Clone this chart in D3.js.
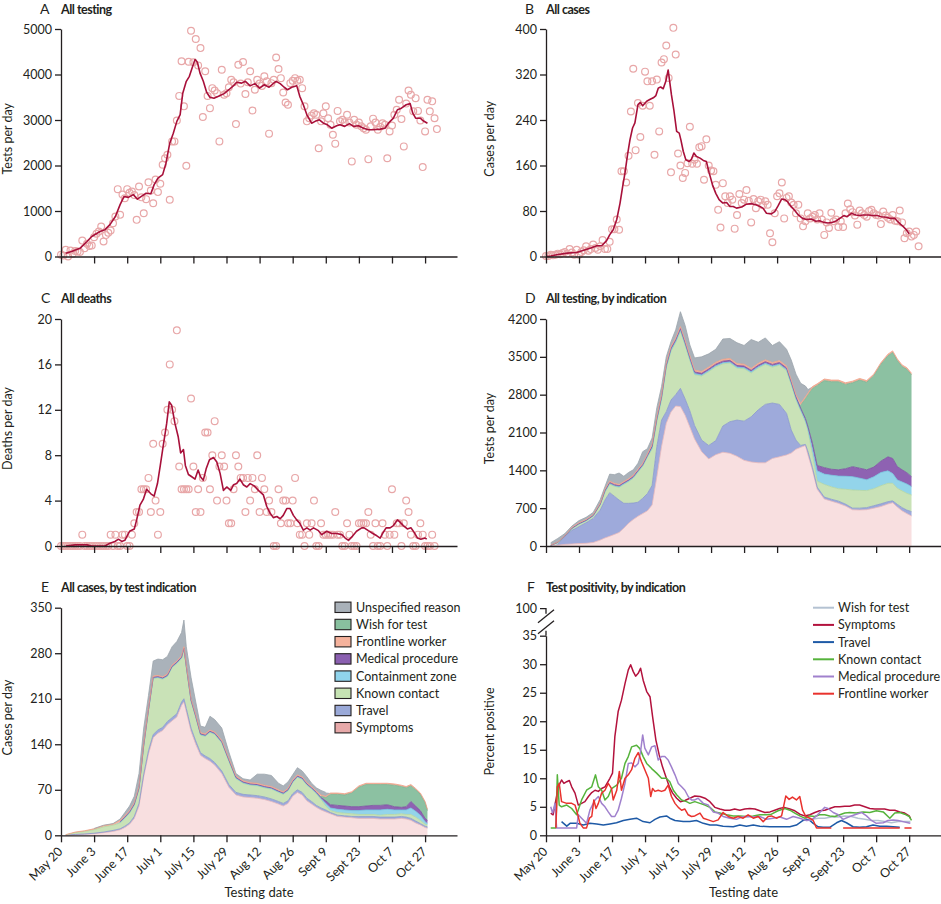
<!DOCTYPE html>
<html><head><meta charset="utf-8">
<script src="https://cdn.jsdelivr.net/npm/d3@7/dist/d3.min.js"></script>
<style>body{margin:0;background:#fff;} svg{display:block;}</style>
</head><body><svg id="chart" width="941" height="904"></svg>
<script>
// ---------- shared axis data (days since May 20) ----------
const dateTickDays = [0,14,28,42,56,70,84,98,112,126,140,154];
const dateTickLabels = ["May 20","June 3","June 17","July 1","July 15","July 29","Aug 12","Aug 26","Sept 9","Sept 23","Oct 7","Oct 27"];

// ---------- A: all testing (daily, from day 0) ----------
const testsDaily = [40,20,150,0,130,60,120,110,100,350,180,280,230,240,425,500,550,660,330,470,520,570,730,880,1480,915,1360,1280,1480,1400,1430,1350,805,1540,1300,950,1260,1630,1450,1170,1690,1415,1600,2015,2160,2236,1246,2530,2530,2990,3530,4290,3300,1995,4280,4960,4270,4780,4200,4580,3065,4070,3530,3260,3700,3650,3590,2530,4105,3555,3590,3720,3885,3830,2910,4215,3800,4275,3570,3830,4070,3210,3665,3885,3800,3750,3960,3850,2700,3810,3885,4375,4120,3920,3605,3385,3335,3810,3863,3920,3863,3885,3700,3300,2970,3040,3100,3150,3115,2380,2970,3150,3300,3040,2895,2675,2480,3200,2970,3005,2950,3115,2945,2090,3005,2895,2945,2860,2820,2785,2140,2860,3030,2945,2785,2850,2930,2895,2160,2750,2880,3115,3225,3445,3020,2420,3360,3650,3555,3190,3480,3200,2990,1965,2750,3445,3190,3410,3040,2800];
const testsAvg = [[2,70],[4.5,110],[8,180],[11,330],[13,440],[16.5,550],[18.6,590],[20.7,700],[23,880],[25,1140],[26.7,1320],[28.5,1300],[30.6,1360],[32.3,1260],[34,1320],[36,1390],[38,1380],[39.4,1580],[41,1720],[43,1800],[44.4,2050],[46,2490],[47.5,2710],[49,2970],[50.4,3120],[51.5,3590],[53,3850],[54.3,3960],[55.7,4180],[56.7,4330],[57.7,4270],[58.8,4030],[60.2,3850],[61.6,3610],[63,3500],[64.7,3480],[66.6,3520],[69,3580],[71,3665],[73,3755],[74.3,3830],[76.4,3810],[78,3850],[80,3750],[82,3800],[84,3700],[86,3775],[88,3720],[90,3810],[91,3850],[92.7,3800],[94.4,3720],[95.8,3665],[97.6,3720],[99.7,3755],[101,3520],[102.5,3335],[104,3115],[106,2930],[107.5,2970],[109.3,3005],[111,2930],[112.7,2895],[114.5,2820],[116.6,2875],[118,2895],[120,2860],[122,2920],[123.7,2860],[125.8,2875],[128,2820],[130,2785],[132,2785],[135,2800],[137,2820],[138.5,2930],[140.6,3040],[142.3,3225],[144,3260],[146,3335],[147.7,3360],[148.8,3150],[150,3040],[152,3040],[153,2990],[155,2930]];

// ---------- B: all cases ----------
const casesDaily = [1,1,3,2,3,5,4,6,8,5,13,7,3,12,3,8,11,18,10,13,21,15,12,18,29,13,13,26,48,48,65,47,150,150,130,177,255,330,187,270,210,265,325,308,265,308,179,311,220,341,347,371,314,148,402,355,181,160,138,147,164,228,163,170,163,192,194,135,206,160,151,150,126,82,51,129,106,94,106,100,49,73,110,94,100,117,98,60,101,85,97,100,90,97,91,41,25,76,106,111,130,67,103,106,95,91,76,91,67,53,62,76,67,70,73,65,76,65,38,60,50,77,62,65,52,62,52,76,93,83,78,72,56,81,76,73,70,80,82,76,73,72,57,79,72,68,65,73,63,62,81,60,32,41,44,35,38,44,18];
const casesAvg = [[0,0],[2,1],[4.5,3],[9,6],[13,7],[16,11],[19,15],[21.5,19],[23.6,19],[25.7,28],[27,38],[28.5,47],[30,65],[31.4,94],[32.5,123],[33.5,147],[34.5,177],[35.6,205],[36.7,226],[37.7,235],[39,267],[40,271],[41,265],[42.7,273],[44,276],[45.5,279],[46.6,283],[47.6,296],[48.6,298],[49.7,295],[50.8,308],[51.8,328],[52.5,306],[53.2,284],[54.2,258],[55.4,220],[56.5,217],[57.2,205],[58.2,185],[59.3,170],[60.7,167],[61.7,171],[62.7,182],[63.8,176],[65.3,173],[66.7,169],[68,167],[69.2,147],[70.6,126],[72,111],[73.4,100],[75,94],[76.6,95],[78,88],[79.4,88],[80.8,85],[83,87],[85,92],[87,93],[89,91],[90.7,88],[92,85],[93.5,76],[95.6,75],[97,79],[98.4,89],[99.9,101],[101.3,100],[102.3,97],[103.7,89],[105.5,81],[107,73],[108.8,67],[110.5,65],[112.6,66],[114.4,62],[116,63],[117.8,60],[119.6,59],[121.5,60],[123.2,63],[124.6,67],[126.3,72],[127.7,70],[129.5,76],[131.4,73],[133,72],[134.5,73],[136.6,73],[138.7,72],[140.4,72],[142.2,70],[144.4,69],[146,67],[148,67],[149,62],[150.3,57],[151.4,53],[152.8,47],[154,40]];

// ---------- C: all deaths ----------
const deathsDaily = [0,0,0,0,0,0,0,0,0,1,0,0,0,0,0,0,0,0,0,0,0,1,0,1,0,0,1,1,0,0,1,2,3,3,5,5,5,6,3,9,4,1,3,9,10,12,16,12,11,19,7,5,5,5,5,13,7,3,5,3,6,10,10,5,8,11,4,7,8,7,4,2,2,5,8,7,6,6,3,6,4,6,5,8,3,6,5,3,4,3,0,0,5,2,4,4,2,2,4,6,2,1,1,0,2,1,2,4,0,0,2,1,1,1,1,1,3,1,1,0,0,2,1,0,0,0,2,2,2,2,3,1,0,2,0,0,2,1,0,1,5,1,2,2,0,2,4,3,1,0,0,1,2,1,0,0,0,1,0];
const deathsAvg = [[2,0],[6,0.1],[11,0.1],[13,0],[18.6,0],[20.7,0.25],[22.8,0.4],[24.3,0.6],[25.7,0.4],[27,0.5],[29,1.3],[31,1.5],[32,2.3],[33.4,3.6],[34.8,4.1],[36.2,5],[38,4.6],[39.4,4.4],[40.8,5.5],[42,7.1],[43.3,8.9],[44.7,10.8],[45.8,12.7],[46.8,12.4],[48.2,10.8],[49.6,9.6],[50.6,8.2],[51.8,8.5],[52.6,7.1],[53.9,6.3],[55.3,6.1],[56.7,5.9],[58,6.7],[59,6.1],[60.2,5.8],[61.4,6.8],[62.8,7.6],[64.5,7.8],[65.9,7.4],[67.3,6.4],[68.7,4.9],[70.1,5.2],[71.8,4.9],[73,5.4],[74.3,5.5],[75.7,5.9],[77.1,5.4],[78.6,5.2],[80,5.5],[81.7,5.3],[83.5,4.9],[85.6,4.5],[87,3.5],[88.4,2.9],[89.8,2.5],[91.3,2.6],[92.7,2.4],[94,2.7],[95.5,3.3],[96.9,3.3],[98.3,2.7],[99.7,2.3],[101,2],[102.5,1.4],[104,1.6],[105.4,1.4],[106.8,1.6],[108.9,1.35],[110.3,1],[112.4,1.3],[114.5,1.1],[116.6,1.1],[118.8,1],[120.2,0.7],[121.6,0.5],[123,0.8],[125,1.3],[127.2,1.6],[128.2,1.6],[130,1.35],[131.9,1.1],[133.6,0.9],[135,0.7],[136,1.1],[137.5,1.6],[139.2,1.6],[140.6,1.8],[142.3,2.3],[143.4,2.1],[144.8,1.8],[146.5,1.5],[148,1.6],[149.4,1.2],[150.8,0.7],[152.2,0.6],[154,0.7],[154.7,0.6]];

// ---------- D: testing by indication ----------
const dDays = [2,5,8,11,14,17,20,23,25,27,29,31,33,35,37,39,41,43,45,47,49,51,53,55,57,59,61,63,66,69,72,75,78,81,84,87,90,93,96,99,102,104,106,108,110,111,113,115,118,121,124,127,130,133,136,139,142,145,147,149,151,153,155];
const dSymptoms = [3,15,30,37,45,50,65,110,150,180,215,250,330,420,490,550,600,650,760,1280,1840,2270,2480,2590,2580,2420,2200,1980,1745,1610,1690,1735,1715,1660,1585,1555,1540,1540,1620,1650,1685,1720,1790,1825,1860,1700,1400,1050,870,830,790,740,670,666,672,700,730,777,800,720,650,600,555];
const dTravel = [0,20,140,253,315,380,445,555,700,807,705,600,460,369,305,260,282,320,360,560,490,215,220,210,337,300,300,250,215,250,260,485,585,670,725,835,980,1080,1025,970,770,425,170,35,20,60,50,40,35,35,40,35,30,34,38,45,50,43,35,50,60,65,80];
const dKnown = [5,30,12,27,42,32,42,97,145,158,185,235,350,401,460,555,593,675,675,465,380,810,905,965,1058,995,935,940,1185,1365,1365,1150,1085,960,970,812,775,740,665,725,790,840,750,640,420,390,250,110,235,230,230,275,336,330,315,315,335,340,325,297,310,309,309];
const dContainment = [1,1,1,5,5,5,5,5,12,12,12,12,12,12,12,12,12,12,20,20,20,20,20,20,20,20,20,20,20,20,20,20,20,20,20,20,20,20,20,20,20,20,20,20,20,30,100,190,190,215,233,240,247,225,200,220,245,230,180,154,165,173,154];
const dMedical = [2,2,2,8,8,8,8,8,18,18,18,18,18,18,18,18,18,18,30,30,30,30,30,30,30,30,30,30,30,30,30,30,30,30,30,30,30,30,30,30,30,30,30,30,40,40,100,100,120,110,117,140,185,185,185,180,210,260,280,247,225,210,185];
const dWish = [0,0,0,0,0,0,0,0,0,0,0,0,0,0,0,0,0,0,0,0,0,0,0,0,0,0,0,0,0,0,0,0,0,0,0,0,0,0,0,0,0,0,0,55,365,570,1015,1480,1610,1620,1630,1560,1552,1630,1620,1690,1790,1870,1960,1962,1910,1913,1882];
const dFrontline = [5,5,5,15,15,15,15,15,25,25,25,25,25,25,25,25,25,25,35,35,35,35,35,35,35,35,35,35,35,35,35,35,35,35,35,35,35,35,35,35,35,35,35,35,35,35,35,30,30,30,30,30,30,30,30,30,30,30,30,30,30,30,30];
const dUnspecified = [44,67,40,25,40,40,40,70,50,130,160,210,95,115,100,110,215,100,120,170,155,120,90,150,275,280,200,225,270,245,240,375,370,385,345,533,390,405,315,350,310,370,385,370,200,75,0,0,0,0,0,0,0,0,0,0,0,0,0,0,0,0,0];

// ---------- E: cases by test indication ----------
const eDays = [2,6,10,14,18,22,25,27,29,31,33,35,37,39,41,43,45,47,49,51,52,53,55,57,59,61,63,65,68,71,74,77,80,83,86,89,92,94,96,98,100,102,104,106,108,110,112,114,117,120,123,126,129,132,135,138,141,144,146,148,150,152,154,155];
const eSymptoms = [0.3,1,1.6,2.5,4,6,8.5,12,17,26,45,90,125,150,157,161,170,176,182,200,205,190,160,140,123,118,114,108,95,74,62,59,58,57,55,52,48,45,49,60,66,62,53,48,43,39,36,33,29,28,27,26,26,26,25,25,25,26,25,23,19,16,12,11];
const eTravel = [0.1,0.3,0.4,0.7,1,1.5,1.5,2,2,3,4,4,5,5,5,5,5,5,5,5,5,5,5,5,4,4,4,4,4,4,4,4,4,4,4,4,4,4,4,4,4,4,4,4,3,3,3,2,2,2,2,3,3,3,3,3,3,3,3,3,3,2,2,2];
const eKnown = [0.3,2.7,4,5.3,8,8,9,12,15,17,22,43,61,86,80,74,69,77,77,67,76,63,41,36,27,30,40,43,43,36,21,17,15,15,14,15,14,14,15,17,19,20,20,19,18,13,6,3,4,4,4,3,3,3,3,4,4,4,4,6,6,5,3,3];
const eContainment = [0,0,0,0,0,0,1,1,1,1,1,1,1,1,1,1,1,1,1,1,1,1,1,1,1,1,1,1,1,1,1,1,1,1,1,1,1,1,1,1,1,1,1,1,1,1.5,4,4,5,5,5,6,7,7,8,8,7,6,7,10,9,8,4,2];
const eMedical = [0,0,0,0,0,0,1,1,1,1,1,1,1,1,1,1,1,1,1,1,1,1,1,1,1,1,1,1,1,1,1,1,1,1,1,1,1,1,1,1,1,1,1,1,1,1.5,4,5,6,6,6,6,6,7,7,7,5,4,5,10,8,7,5,5];
const eWish = [0,0,0,0,0,0,0,0,0,0,0,0,0,0,0,0,0,0,0,0,0,0,0,0,0,0,0,0,0,0,0,0,0,0,0,0,0,0,0,0,0,0,0,0,0,2,5,16,17,17,21,30,33,32,32,31,33,32,29,24,25,25,24,15];
const eFrontline = [0.3,1,1,1.5,2,2,2,2,2,2,2,2,2,2,2,2,2,2,2,2,2,2,2,2,2,2,2,2,2,2,2,2,2,2,2,2,2,2,2,2,2,2,2,2,2,2,2,2,2,2,2,2,2,2,2,2,2,2,2,2,2,2,2,2];
const eUnspecified = [0,0,0,0.5,0.5,0.5,2,5,7,10,20,24,20,23,25,26,27,28,30,36,41,28,33,20,10,10,21,19,19,10,4,3,4,14,17,17,10,9,10,8,11,9,9,5,5,7,6,0,0,0,0,0,0,0,0,0,0,0,0,0,0,0,0,0];

// ---------- F: test positivity (%) by indication ----------
const posSymptoms = [[2,3.9],[3,3.6],[4.2,6.2],[5.2,8.5],[6.6,9.7],[7.6,9.1],[8.8,9.4],[9.9,9.6],[10.9,8.5],[12.3,7.4],[13.7,5.3],[15.1,5.6],[16.5,5.9],[18,6.8],[19.4,7.5],[20.8,7.9],[22.2,7.7],[23.6,8.2],[25,8.5],[27.1,10],[28.2,10.9],[29.2,17.3],[30.6,21.7],[32,23.7],[33.5,26.6],[34.9,29],[35.9,29.9],[37,28.7],[38,27.9],[39.1,28.4],[40.1,29.3],[41.2,27.2],[42.7,25.2],[44.1,24.3],[45.2,20.8],[46.6,16.7],[48,14.1],[49.4,12],[50.8,10.3],[52.3,8.5],[53.7,7.4],[55.4,6.5],[57,5.9],[58.9,6.1],[61,6.5],[63.1,6.9],[65.3,6.8],[67.4,6.5],[69.5,5.9],[71.6,4.9],[73.7,4.6],[75.8,4.4],[78,4.4],[80,4.6],[82.2,4.4],[84.3,4.6],[86.4,4.7],[88.6,4.6],[90.7,4.3],[92.8,4],[95,4.1],[97,4.4],[99,4.7],[101,4.9],[103.4,4.6],[105.5,4.3],[107.6,3.7],[109.7,3.4],[111.9,3.6],[114,4],[116,4.3],[118.2,4.4],[120.3,4.7],[122.5,5],[124.6,5],[126.7,5.1],[128.8,5.1],[130.9,5.3],[133,5.3],[135.2,5],[137.3,4.7],[139.4,4.6],[141.5,4.6],[143.6,4.6],[145.8,4.4],[147.9,4.4],[150,4.1],[152.1,3.9],[154,3.4],[154.5,3]];
const posKnown = [[2,1.3],[4.2,1.3],[4.8,10.6],[5.6,5.3],[6.6,5],[8.8,5.3],[10.9,4.7],[13,3.6],[15.1,6.2],[17.2,7.9],[19.4,8.5],[21,10.6],[22.2,8.5],[23.6,7.9],[25,6.2],[26.4,6.8],[27.8,8.2],[30,8.8],[32,10],[33.5,12.6],[34.9,13.8],[36.3,15.5],[38.4,15.8],[39.8,15.2],[41.2,13.8],[42.7,12.6],[44.8,11.7],[46.9,10.9],[49,10],[51,10],[52.5,9.4],[54,7.9],[55.4,7.1],[57.5,6.2],[59.6,5.9],[61,5.6],[63.1,5.9],[65.3,5.6],[67.4,5.3],[69.5,4.9],[71.6,4.1],[73.7,3.9],[76.6,3.6],[79.4,3.4],[82.2,3.4],[85,3.3],[87.9,3.4],[90.7,3.6],[93.5,3.6],[95.6,3.7],[98.4,4.3],[101.3,4.7],[103.4,4.4],[105.5,3.9],[107.6,3.4],[109.7,3.0],[111.9,3.4],[114,3.3],[116,3.6],[118.2,3.6],[120.3,3.4],[122.5,3.3],[124.6,3.6],[126.7,3.9],[128.8,4.0],[131.6,3.9],[134.5,4.1],[137.3,4.0],[140.1,4.3],[143,4.1],[145.8,3.0],[147.9,3.9],[150,4.0],[152.1,3.7],[154,3.3],[155,2.6]];
const posMedical = [[2,5],[2.8,3.9],[3.8,5.6],[4.5,1.3],[13,1.3],[13.7,3.6],[15.1,3],[17.2,2.1],[18.6,4.4],[20.8,6.2],[22.2,6.8],[23.6,5.6],[25,5],[26.4,4.1],[27.8,3.3],[29.2,3.3],[30.6,4.4],[32,6.5],[33.5,9.1],[34.9,12.6],[36.3,12.7],[37.7,12],[39.1,12.6],[40.1,14.7],[41,17.6],[41.9,15.3],[43.4,14.1],[44.8,15.5],[46.2,15.7],[47.6,13.2],[49,13.8],[50.4,13.8],[51.8,13.2],[53.2,12],[54.7,10.6],[56.1,9.1],[57.5,8.5],[58.9,7.9],[60.3,6.8],[61.7,6.2],[63.1,6.2],[64.5,6.5],[66.7,5.6],[68.8,5.3],[70.9,4.1],[73,3.9],[75.1,3.3],[78,3],[80.8,2.8],[82.9,3.2],[85,3.3],[87.9,3.2],[90.7,3.3],[93.5,2.8],[96.3,3.0],[99.2,3.2],[102,2.8],[104.8,3.3],[107.6,3.0],[110.5,2.6],[112.6,2.7],[114.7,3.4],[116.8,4.3],[118.2,4.9],[119.6,4.7],[121.8,4.0],[123.9,3.6],[126,2.8],[128.8,3.3],[131.6,3.7],[133.8,4.0],[135.9,3.4],[138,2.6],[140.1,2.1],[143,2.2],[145,2.6],[147.2,2.7],[149.3,2.6],[151.4,2.4],[153.5,2.2],[154.5,2.1]];
const posFrontline = [[4.2,1.3],[4.8,8.5],[5.6,9.1],[6.6,5.9],[8.8,5.6],[10.9,5.6],[12.3,5.3],[13.3,3.9],[14.4,2.1],[15.8,1.3],[17.2,1.3],[18.4,3.0],[19.4,3.3],[20.3,6.2],[21.2,4.7],[22.2,5.6],[23.6,7.4],[25,7.9],[26.4,9.1],[27.8,8.2],[28.5,6.2],[30,7.9],[31.1,11.2],[32,7.9],[33.5,10],[34.9,10.6],[36.3,11.5],[37.7,13.5],[39.1,14.5],[40.5,12.9],[41.9,11.5],[43.4,10],[44.4,6.8],[45.2,8.2],[46.2,7.7],[47.6,7.9],[49,7.7],[50.4,7.9],[51.8,8.8],[53.2,6.8],[54.7,5.6],[56.1,4.9],[57.5,4.4],[58.9,4.6],[60.3,3.6],[61.7,3.3],[63.1,3.4],[65.3,3.9],[66.7,3.0],[68.8,2.7],[70.9,2.4],[73,2.7],[75.1,4.0],[77.3,3.3],[79.4,3.0],[81.5,3.3],[83.6,3.0],[85.7,3.6],[87.9,3.0],[90,3.3],[92.1,2.4],[94.2,3.3],[95.6,3.4],[97.7,3.0],[99.9,3.4],[101.7,6.9],[103.1,6.3],[104.5,6.7],[106.2,6.2],[107.6,6.8],[108.8,4.4],[110.2,3.3],[111.9,3.0],[113.3,2.6],[114.7,1.3],[121,1.3],[121.5,null],[126,1.3],[150,1.3],[151,null],[152,1.3],[155,1.3]];
const posTravel = [[6.6,2.4],[8.8,1.6],[10.2,2.1],[13,2.1],[15.8,1.8],[18.6,2.1],[21.5,2.0],[24.3,1.8],[27.1,2.0],[29.9,2.2],[32.8,2.6],[35.6,2.8],[38.4,3.0],[41.2,2.4],[44.1,2.2],[46.2,2.8],[48.3,3.2],[51.1,3.4],[52.5,3.0],[54.7,2.6],[58.2,2.4],[61,2.4],[63.8,2.6],[66.7,2.1],[69.5,1.8],[72.3,1.8],[75.1,1.6],[79.4,1.5],[82.2,1.8],[85,1.6],[87.9,1.8],[90.7,1.6],[94.9,1.5],[99.2,1.5],[103.4,1.5],[106.2,1.8],[109,2.6],[110.5,2.8],[111.9,2.6],[113.3,2.1],[115.4,1.5],[117.5,1.4],[120.3,1.4],[123.2,2.2],[125.3,2.6],[127.4,2.2],[130.2,1.5],[133,1.4],[135.9,1.5],[138.7,1.8],[141.5,1.6],[144.4,1.6],[147.2,1.5],[150,1.4]];
const posWish = [[110,2.6],[112.6,2.8],[115.4,3.0],[118.2,3.0],[121.1,3.2],[123.9,3.2],[126.7,3.4],[129.5,3.3],[132.3,3.0],[135.2,2.8],[138,2.6],[140.8,2.6],[143.6,2.4],[146.5,2.2],[149.3,2.4],[152.1,2.4],[154.5,2.4]];

// ---------- categories ----------
const stackKeys = ["Symptoms","Travel","Known contact","Containment zone","Medical procedure","Wish for test","Frontline worker","Unspecified reason"];
const legendEOrder = ["Unspecified reason","Wish for test","Frontline worker","Medical procedure","Containment zone","Known contact","Travel","Symptoms"];
const legendFOrder = ["Wish for test","Symptoms","Travel","Known contact","Medical procedure","Frontline worker"];

// ---------- styles ----------
const INK = "#231f20";
const FONT = "Lato, 'Open Sans', 'DejaVu Sans', sans-serif";
const areaFill = {"Symptoms":"#f8dfe0","Travel":"#9eaadb","Known contact":"#c9e2b7","Containment zone":"#93d4ea","Medical procedure":"#8e62b2","Wish for test":"#8cc1a2","Frontline worker":"#f4b19b","Unspecified reason":"#aab2ba"};
const areaEdge = {"Symptoms":"#e9b8ba","Travel":"#8795cc","Known contact":"#b4d59f","Containment zone":"#72c4e0","Medical procedure":"#7a4d9f","Wish for test":"#79b190","Frontline worker":"#ef9f86","Unspecified reason":"#9ca4ac"};
const swatchFill = {"Symptoms":"#e7a9a9","Travel":"#9aa9d8","Known contact":"#c6e3b3","Containment zone":"#90d4ec","Medical procedure":"#8a5fb0","Wish for test":"#88c09f","Frontline worker":"#f5b29c","Unspecified reason":"#a9b1b9"};
const lineColor = {"Wish for test":"#b4c2d2","Symptoms":"#b3123d","Travel":"#1e5aa6","Known contact":"#56b33c","Medical procedure":"#a081cd","Frontline worker":"#e9322d"};
const posSeries = {"Wish for test":posWish,"Symptoms":posSymptoms,"Travel":posTravel,"Known contact":posKnown,"Medical procedure":posMedical,"Frontline worker":posFrontline};

const svg = d3.select("#chart").style("font-family", FONT);

function makePanel(o){
  const x = d3.scaleLinear().domain([0,167.5]).range([o.x0,o.x1]);
  const y = d3.scaleLinear().domain(o.yDomain).range([o.yBottom,o.yTop]);
  const g = svg.append("g");
  const marks = g.append("g");
  const axes = g.append("g");
  const gx = axes.append("g").attr("transform",`translate(0,${o.yBottom})`)
    .call(d3.axisBottom(x).tickValues(dateTickDays).tickSize(7).tickSizeOuter(0)
      .tickFormat((d,i)=> o.xLabels ? dateTickLabels[i] : ""));
  const gy = axes.append("g").attr("transform",`translate(${o.x0},0)`)
    .call(d3.axisLeft(y).tickValues(o.yTicks).tickSize(6).tickSizeOuter(0).tickPadding(3).tickFormat(d3.format("d")));
  axes.selectAll(".domain, .tick line").attr("stroke",INK).attr("stroke-width",1.3);
  axes.selectAll(".tick text").attr("fill",INK).style("font-size","12.5px").style("font-family",FONT);
  if(o.xLabels){
    gx.selectAll(".tick text").attr("text-anchor","end").attr("x",0).attr("y",0).attr("dy",0)
      .attr("transform","translate(2,17) rotate(-45)");
    g.append("text").attr("x",(o.x0+o.x1)/2).attr("y",897).attr("text-anchor","middle")
      .attr("fill",INK).style("font-size","13px").text("Testing date");
  }
  g.append("text").attr("x",o.letterX).attr("y",o.titleY+1).attr("fill",INK)
    .style("font-size","14px").text(o.letter);
  g.append("text").attr("x",o.x0).attr("y",o.titleY+1).attr("fill",INK)
    .style("font-size","12.5px").style("font-weight","700").style("letter-spacing","-0.5px").text(o.title);
  g.append("text").attr("transform",`translate(${o.labelX},${(o.yTop+o.yBottom)/2-4}) rotate(-90)`)
    .attr("text-anchor","middle").attr("fill",INK).style("font-size","12.5px").text(o.yLabel);
  return {g,marks,x,y};
}

function scatterPanel(p, daily, avg){
  p.marks.append("g").selectAll("circle").data(daily).join("circle")
    .attr("cx",(d,i)=>p.x(i)).attr("cy",d=>p.y(d)).attr("r",3.4)
    .attr("fill","none").attr("stroke","#e8a7a8").attr("stroke-width",1.2);
  p.marks.append("path").datum(avg)
    .attr("d",d3.line().x(d=>p.x(d[0])).y(d=>p.y(d[1])))
    .attr("fill","none").attr("stroke","#a8103a").attr("stroke-width",1.6).attr("stroke-linejoin","round");
}

function stackPanel(p, days, layers){
  const rows = days.map((day,i)=>{const r={day}; stackKeys.forEach(k=>r[k]=layers[k][i]); return r;});
  const series = d3.stack().keys(stackKeys)(rows);
  const area = d3.area().x(d=>p.x(d.data.day)).y0(d=>p.y(d[0])).y1(d=>p.y(d[1]));
  series.forEach(s=>{
    p.marks.append("path").datum(s).attr("d",area).attr("fill",areaFill[s.key]).attr("stroke","none");
  });
  series.forEach(s=>{
    p.marks.append("path").datum(s)
      .attr("d",d3.line().defined(d=>d[1]-d[0]>0).x(d=>p.x(d.data.day)).y(d=>p.y(d[1])))
      .attr("fill","none").attr("stroke",areaEdge[s.key]).attr("stroke-width",0.8);
  });
}

// A
const pA = makePanel({x0:61,x1:457,yTop:29,yBottom:256.5,yDomain:[0,5000],yTicks:[0,1000,2000,3000,4000,5000],
  letter:"A",letterX:40,title:"All testing",titleY:12.7,yLabel:"Tests per day",labelX:12,xLabels:false});
scatterPanel(pA, testsDaily, testsAvg);
// B
const pB = makePanel({x0:546,x1:941,yTop:29,yBottom:256.5,yDomain:[0,400],yTicks:[0,80,160,240,320,400],
  letter:"B",letterX:525,title:"All cases",titleY:12.7,yLabel:"Cases per day",labelX:494,xLabels:false});
scatterPanel(pB, casesDaily, casesAvg);
// C
const pC = makePanel({x0:61,x1:457,yTop:319,yBottom:546,yDomain:[0,20],yTicks:[0,4,8,12,16,20],
  letter:"C",letterX:41,title:"All deaths",titleY:301.7,yLabel:"Deaths per day",labelX:12,xLabels:false});
scatterPanel(pC, deathsDaily, deathsAvg);
// D
const pD = makePanel({x0:546,x1:941,yTop:319,yBottom:546,yDomain:[0,4200],yTicks:[0,700,1400,2100,2800,3500,4200],
  letter:"D",letterX:525,title:"All testing, by indication",titleY:301.7,yLabel:"Tests per day",labelX:494,xLabels:false});
stackPanel(pD, dDays, {"Symptoms":dSymptoms,"Travel":dTravel,"Known contact":dKnown,"Containment zone":dContainment,
  "Medical procedure":dMedical,"Wish for test":dWish,"Frontline worker":dFrontline,"Unspecified reason":dUnspecified});
// E
const pE = makePanel({x0:61,x1:457,yTop:607.7,yBottom:835.3,yDomain:[0,350],yTicks:[0,70,140,210,280,350],
  letter:"E",letterX:41,title:"All cases, by test indication",titleY:590.7,yLabel:"Cases per day",labelX:12,xLabels:true});
stackPanel(pE, eDays, {"Symptoms":eSymptoms,"Travel":eTravel,"Known contact":eKnown,"Containment zone":eContainment,
  "Medical procedure":eMedical,"Wish for test":eWish,"Frontline worker":eFrontline,"Unspecified reason":eUnspecified});
const legE = pE.g.append("g");
legendEOrder.forEach((k,i)=>{
  const cy = 607.3 + i*17.2;
  legE.append("rect").attr("x",335).attr("y",cy-5.2).attr("width",16).attr("height",10.4)
    .attr("fill",swatchFill[k]).attr("stroke",INK).attr("stroke-width",1.1);
  legE.append("text").attr("x",356).attr("y",cy).attr("dy","0.36em").attr("fill",INK)
    .style("font-size","12.5px").text(k);
});
// F
const pF = makePanel({x0:546,x1:941,yTop:635.7,yBottom:835.3,yDomain:[0,35],yTicks:[0,5,10,15,20,25,30,35],
  letter:"F",letterX:527,title:"Test positivity, by indication",titleY:590.7,yLabel:"Percent positive",labelX:494,xLabels:true});
Object.keys(posSeries).forEach(k=>{
  pF.marks.append("path").datum(posSeries[k])
    .attr("d",d3.line().defined(d=>d[1]!==null).x(d=>pF.x(d[0])).y(d=>pF.y(d[1])))
    .attr("fill","none").attr("stroke",lineColor[k]).attr("stroke-width",1.5).attr("stroke-linejoin","round");
});
// axis break up to 100
const brk = pF.g.append("g").attr("stroke",INK).attr("stroke-width",1.3).attr("fill","none");
const y35 = pF.y(35), y100 = y35 - 27;
brk.append("path").attr("d",`M540,${y100}H546V${y100+5}`);
brk.append("path").attr("d",`M538,${y100+14}L554,${y100+1}`);
brk.append("path").attr("d",`M538,${y100+25}L554,${y100+12}`);
brk.append("path").attr("d",`M546,${y35-5}V${y35}`);
pF.g.append("text").attr("x",537).attr("y",y100).attr("dy","0.32em").attr("text-anchor","end")
  .attr("fill",INK).style("font-size","12.5px").text("100");
const legF = pF.g.append("g");
legendFOrder.forEach((k,i)=>{
  const cy = 607.7 + i*17.2;
  legF.append("line").attr("x1",813).attr("x2",834).attr("y1",cy).attr("y2",cy)
    .attr("stroke",lineColor[k]).attr("stroke-width",2);
  legF.append("text").attr("x",838).attr("y",cy).attr("dy","0.36em").attr("fill",INK)
    .style("font-size","12.5px").text(k);
});
</script></body></html>
